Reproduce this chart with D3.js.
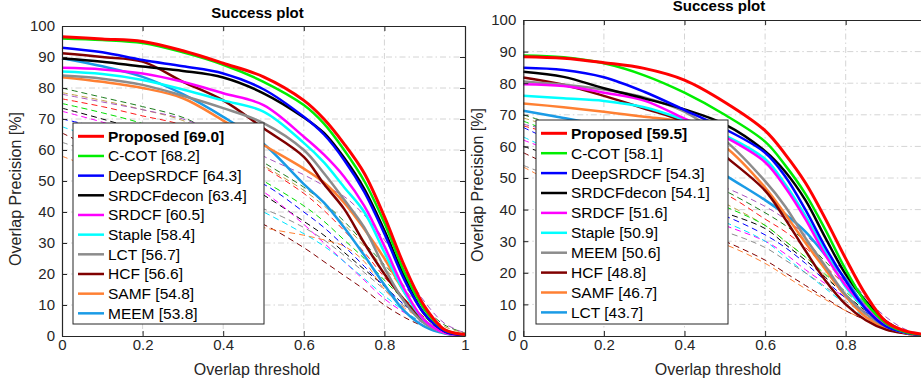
<!DOCTYPE html>
<html>
<head>
<meta charset="utf-8">
<script src="https://cdn.jsdelivr.net/npm/d3@7"></script>
<style>
  body { margin: 0; background: #fff; }
  text { font-family: "Liberation Sans", Arial, Helvetica, sans-serif; }
</style>
</head>
<body>
<div id="chart"></div>
<script>
// overlap thresholds where the curves are sampled
const thresholds = [0, 0.1, 0.2, 0.3, 0.4, 0.5, 0.6, 0.65, 0.7, 0.75, 0.8, 0.85, 0.9, 0.95, 1];
const xTicks = [0, 0.2, 0.4, 0.6, 0.8, 1];
const yTicks = [0, 10, 20, 30, 40, 50, 60, 70, 80, 90, 100];

// ---- left plot: top 10 trackers (solid) ----
const leftNames = ["Proposed", "C-COT", "DeepSRDCF", "SRDCFdecon", "SRDCF", "Staple", "LCT", "HCF", "SAMF", "MEEM"];
const leftScores = ["69.0", "68.2", "64.3", "63.4", "60.5", "58.4", "56.7", "56.6", "54.8", "53.8"];
const leftSolid = [
  [96.5, 95.8, 95, 92, 88, 83.6, 76, 70, 62, 52.5, 38.5, 22.5, 9.5, 2, 0.5],
  [96, 95.5, 94.5, 91.5, 87.5, 82, 74.5, 68.5, 60, 50, 36.5, 20.5, 8.5, 2, 0.5],
  [93, 91.5, 89, 87, 84.7, 79.6, 70.7, 65, 56.8, 46.5, 33, 18, 7, 1.5, 0.3],
  [89.5, 88.5, 86.9, 85.5, 83.4, 78.3, 70.5, 65.5, 57.5, 47.5, 34, 19, 7, 1.5, 0.3],
  [86.5, 86, 84.7, 82, 78.3, 74.5, 64.3, 58.5, 51.4, 42, 29, 15, 5, 1, 0.3],
  [85.3, 84.5, 82.6, 79.5, 76, 72.4, 62.3, 56, 48, 40, 27, 14, 5, 1, 0.3],
  [84, 83, 81, 77.5, 73.5, 68.7, 60, 52.5, 44, 35, 22, 11, 4, 1, 0.3],
  [91.2, 90, 88.5, 82, 76, 67, 57.8, 49, 41, 30, 20, 11.5, 4.5, 1, 0.3],
  [83.5, 82, 80, 76.7, 69.5, 61.6, 54, 49.5, 43, 34.5, 25, 14, 5, 1, 0.3],
  [89.6, 87, 83.6, 78, 70.7, 62, 49, 43, 35, 26, 16.5, 8, 3, 0.8, 0.2]
];
// other trackers (dashed)
const leftDashed = [
  [80, 77, 74, 70.5, 64, 56, 48, 43, 37, 30, 23, 16, 9, 3.5, 1],
  [78.5, 76, 73, 69.5, 63, 55, 47, 42, 36, 29, 22, 15, 8, 3, 1],
  [78, 75.5, 73, 70, 65, 58, 52, 48.5, 45, 39, 31, 21, 11, 4, 1],
  [76.5, 74, 71, 68, 62, 54.5, 46, 40.5, 34, 27, 19, 12, 6, 2, 0.5],
  [75, 72, 68.5, 63.5, 57, 50, 42, 37, 31, 25, 18, 11.5, 6, 2, 0.5],
  [73.5, 70, 66, 60, 53, 45.5, 37, 32.5, 27, 21.5, 16, 10, 5, 1.5, 0.5],
  [72.5, 69, 65, 59, 53, 46.5, 36, 30, 24, 18, 12, 7.5, 4, 1.5, 0.5],
  [70, 67, 63, 58, 54, 49, 40, 35, 29, 22.5, 16, 10, 5, 1.5, 0.5],
  [67.5, 63, 58, 52, 46, 40, 33, 29, 24, 18.5, 13, 8, 4, 1.5, 0.5],
  [62.5, 58, 53, 48, 44.5, 41, 35, 31, 26, 20.5, 15, 9.5, 5, 1.5, 0.5],
  [65.5, 59, 52, 45.5, 41, 36, 28.5, 24, 19.5, 15, 10, 6, 3, 1, 0.3],
  [58, 53, 48, 43, 39, 35, 32.5, 31, 29, 24, 15, 9, 5, 1.5, 0.5]
];

// ---- right plot ----
const rightNames = ["Proposed", "C-COT", "DeepSRDCF", "SRDCFdecon", "SRDCF", "Staple", "MEEM", "HCF", "SAMF", "LCT"];
const rightScores = ["59.5", "58.1", "54.3", "54.1", "51.6", "50.9", "50.6", "48.8", "46.7", "43.7"];
const rightSolid = [
  [88.4, 87.9, 86.5, 84.7, 81, 74, 65, 57.5, 48.5, 37, 24.5, 13, 4.5, 1.5, 0.5],
  [88.8, 88.2, 86.3, 82.5, 77, 70, 61.5, 54, 45, 33.5, 21, 10.5, 4, 1.2, 0.4],
  [84.9, 84.2, 81.9, 77.3, 71.5, 65.5, 58, 50.5, 40, 28, 17.5, 8.5, 3, 1, 0.3],
  [83.6, 82, 78.4, 75.2, 71.7, 67, 58.5, 52, 43, 31, 19.5, 11, 4.5, 1.2, 0.4],
  [79.7, 79.1, 77, 74.5, 68.8, 63, 55, 47, 37, 25.5, 16, 9, 3.5, 1, 0.3],
  [76, 75.2, 74.4, 72.4, 68.4, 63.5, 56, 48, 38, 26.5, 15.5, 8.5, 3.5, 1, 0.3],
  [80.5, 79.5, 78, 75.5, 71, 62, 49, 41, 31, 22, 13, 7, 3, 1, 0.3],
  [81.8, 79.5, 76, 72, 67.5, 57, 46, 37, 27, 17.5, 10, 5, 2, 0.8, 0.2],
  [73.6, 72.4, 71, 69.4, 67.5, 60, 47, 38.5, 29.5, 21, 12.5, 6, 2.5, 0.8, 0.3],
  [71.3, 69, 66.5, 63.5, 59.5, 51, 43, 38.5, 33, 25.5, 18, 9, 4, 1, 0.3]
];
const rightDashed = [
  [70, 66, 62, 58, 52, 46, 39, 35, 30, 23.5, 17, 10, 5, 1.5, 0.5],
  [69, 65, 60, 55, 48, 42, 35, 30, 25, 19, 13, 8, 4, 1.5, 0.5],
  [67, 64, 60, 56, 51, 47, 41, 37, 32, 26, 20, 12, 6, 2, 0.5],
  [66.5, 63, 59, 55, 50, 45, 37, 33, 28, 22, 16, 10, 5, 1.5, 0.5],
  [68, 63, 57, 51, 46, 41, 35, 30, 25, 19.5, 14, 8.5, 4, 1.5, 0.5],
  [60, 56, 52, 47, 43, 39, 34, 29, 24, 18.5, 13, 8, 4, 1.5, 0.5],
  [62, 57, 51, 45, 40, 35, 30, 26, 21, 16.5, 12, 7.5, 4, 1.5, 0.5],
  [66, 60, 54, 48, 42, 38, 32, 28, 23, 17.5, 12, 7.5, 4, 1.5, 0.5],
  [63, 57, 51, 45, 40, 36, 30, 25, 20, 15, 10, 6, 3, 1, 0.4],
  [54, 49, 44, 40, 36, 33, 28, 24, 20, 15.5, 11, 6.5, 3, 1, 0.4],
  [58, 52, 46, 40, 35, 30, 24, 20, 16, 12, 8, 5, 2, 0.8, 0.3],
  [53.5, 47, 42, 37, 33, 29, 23, 19, 15, 11.5, 8, 5, 2, 0.8, 0.3]
];

// colours by rank (same in both plots)
const solidColors = ["#ff0000", "#00ee00", "#0000ff", "#000000", "#ff00ff", "#00ffff", "#8c8c8c", "#800000", "#ff8033", "#1a9be6"];
const dashedColors = ["#1e7d1e", "#c0a048", "#a855c0", "#ff1a1a", "#00dd00", "#000000", "#ff00ff", "#0000ff", "#00e5ff", "#8c8c8c", "#800000", "#ff8033"];

const svg = d3.select("#chart").append("svg")
  .attr("width", 921)
  .attr("height", 385)
  .style("display", "block");
svg.append("rect").attr("width", 921).attr("height", 385).attr("fill", "#fff");

function drawPanel(p) {
  const x = d3.scaleLinear().domain([0, 1]).range([p.x0, p.x1]);
  const y = d3.scaleLinear().domain([0, 100]).range([p.yb, p.yt]);
  const g = svg.append("g");

  // grid
  g.append("g").selectAll("line").data(xTicks.slice(1, -1)).join("line")
    .attr("x1", d => x(d)).attr("x2", d => x(d))
    .attr("y1", p.yt).attr("y2", p.yb);
  g.append("g").selectAll("line").data(yTicks.slice(1, -1)).join("line")
    .attr("x1", p.x0).attr("x2", p.x1)
    .attr("y1", d => y(d)).attr("y2", d => y(d));
  g.selectAll("line")
    .attr("stroke", "#d4d4d4").attr("stroke-width", 1)
    .attr("stroke-dasharray", "6,3,1.5,3");

  const line = d3.line()
    .x((d, i) => x(thresholds[i]))
    .y(d => y(d))
    .curve(d3.curveCatmullRom.alpha(0.5));

  // dashed trackers first
  g.append("g").selectAll("path").data(p.dashed).join("path")
    .attr("d", line)
    .attr("fill", "none")
    .attr("stroke", (d, i) => dashedColors[i])
    .attr("stroke-width", 1)
    .attr("stroke-dasharray", "6,4");

  // solid trackers, best on top
  const order = d3.range(p.solid.length).reverse();
  g.append("g").selectAll("path").data(order).join("path")
    .attr("d", i => line(p.solid[i]))
    .attr("fill", "none")
    .attr("stroke", i => solidColors[i])
    .attr("stroke-width", i => i === 0 ? 3 : 2.5);

  // axes (ticks point inward, MATLAB style)
  const axisCol = "#262626";
  const xa = g.append("g").attr("transform", `translate(0,${p.yb})`)
    .call(d3.axisBottom(x).tickValues(xTicks).tickSizeInner(-5).tickSizeOuter(0).tickPadding(3).tickFormat(d3.format("~g")));
  const ya = g.append("g").attr("transform", `translate(${p.x0},0)`)
    .call(d3.axisLeft(y).tickValues(yTicks).tickSizeInner(-5).tickSizeOuter(0).tickPadding(7));
  const xt = g.append("g").attr("transform", `translate(0,${p.yt})`)
    .call(d3.axisTop(x).tickValues(xTicks).tickSizeInner(-5).tickSizeOuter(0).tickFormat(""));
  const yr = g.append("g").attr("transform", `translate(${p.x1},0)`)
    .call(d3.axisRight(y).tickValues(yTicks).tickSizeInner(-5).tickSizeOuter(0).tickFormat(""));
  [xa, ya, xt, yr].forEach(a => {
    a.select(".domain").attr("stroke", axisCol).attr("stroke-width", 1.2);
    a.selectAll(".tick line").attr("stroke", axisCol);
    a.selectAll("text").attr("fill", axisCol).style("font-size", "15px")
      .style("font-family", "'Liberation Sans', Arial, sans-serif");
  });
  // labels that fall past the page edge are not shown
  xa.selectAll(".tick").filter(d => x(d) > 915).select("text").remove();

  // labels
  g.append("text").attr("x", p.titleX).attr("y", p.titleY)
    .attr("text-anchor", "middle").attr("font-size", "15px").attr("font-weight", "bold")
    .attr("fill", "#000").text("Success plot");
  g.append("text").attr("x", p.xlabX).attr("y", 375)
    .attr("text-anchor", "middle").attr("font-size", "16px").attr("fill", axisCol)
    .text("Overlap threshold");
  g.append("text").attr("transform", `translate(${p.ylabX},${p.ylabY}) rotate(-90)`)
    .attr("text-anchor", "middle").attr("dy", "0.35em").attr("font-size", "16px").attr("fill", axisCol)
    .text("Overlap Precision [%]");

  // legend
  const lg = g.append("g");
  lg.append("rect")
    .attr("x", p.lx).attr("y", p.ly).attr("width", p.lw).attr("height", p.lh)
    .attr("fill", "#fff").attr("stroke", axisCol).attr("stroke-width", 1);
  p.names.forEach((name, i) => {
    const cy = p.ly + 13.3 + i * p.lstep;
    lg.append("line")
      .attr("x1", p.lx + 5).attr("x2", p.lx + 31)
      .attr("y1", cy).attr("y2", cy)
      .attr("stroke", solidColors[i]).attr("stroke-width", i === 0 ? 3 : 2.5);
    lg.append("text")
      .attr("x", p.lx + 35).attr("y", cy).attr("dy", "0.35em")
      .attr("font-size", "15.5px").attr("font-weight", i === 0 ? "bold" : "normal")
      .attr("fill", "#000")
      .text(`${name} [${p.scores[i]}]`);
  });
}

drawPanel({
  x0: 62, x1: 465, yt: 26, yb: 336,
  solid: leftSolid, dashed: leftDashed, names: leftNames, scores: leftScores,
  titleX: 257.5, titleY: 18, xlabX: 257, ylabX: 15, ylabY: 189,
  lx: 73, ly: 123, lw: 191, lh: 201, lstep: 19.67
});
drawPanel({
  x0: 523.3, x1: 926.3, yt: 20, yb: 336,
  solid: rightSolid, dashed: rightDashed, names: rightNames, scores: rightScores,
  titleX: 719, titleY: 11, xlabX: 718, ylabX: 477.5, ylabY: 185,
  lx: 536, ly: 120, lw: 192, lh: 204, lstep: 19.9
});
</script>
</body>
</html>
